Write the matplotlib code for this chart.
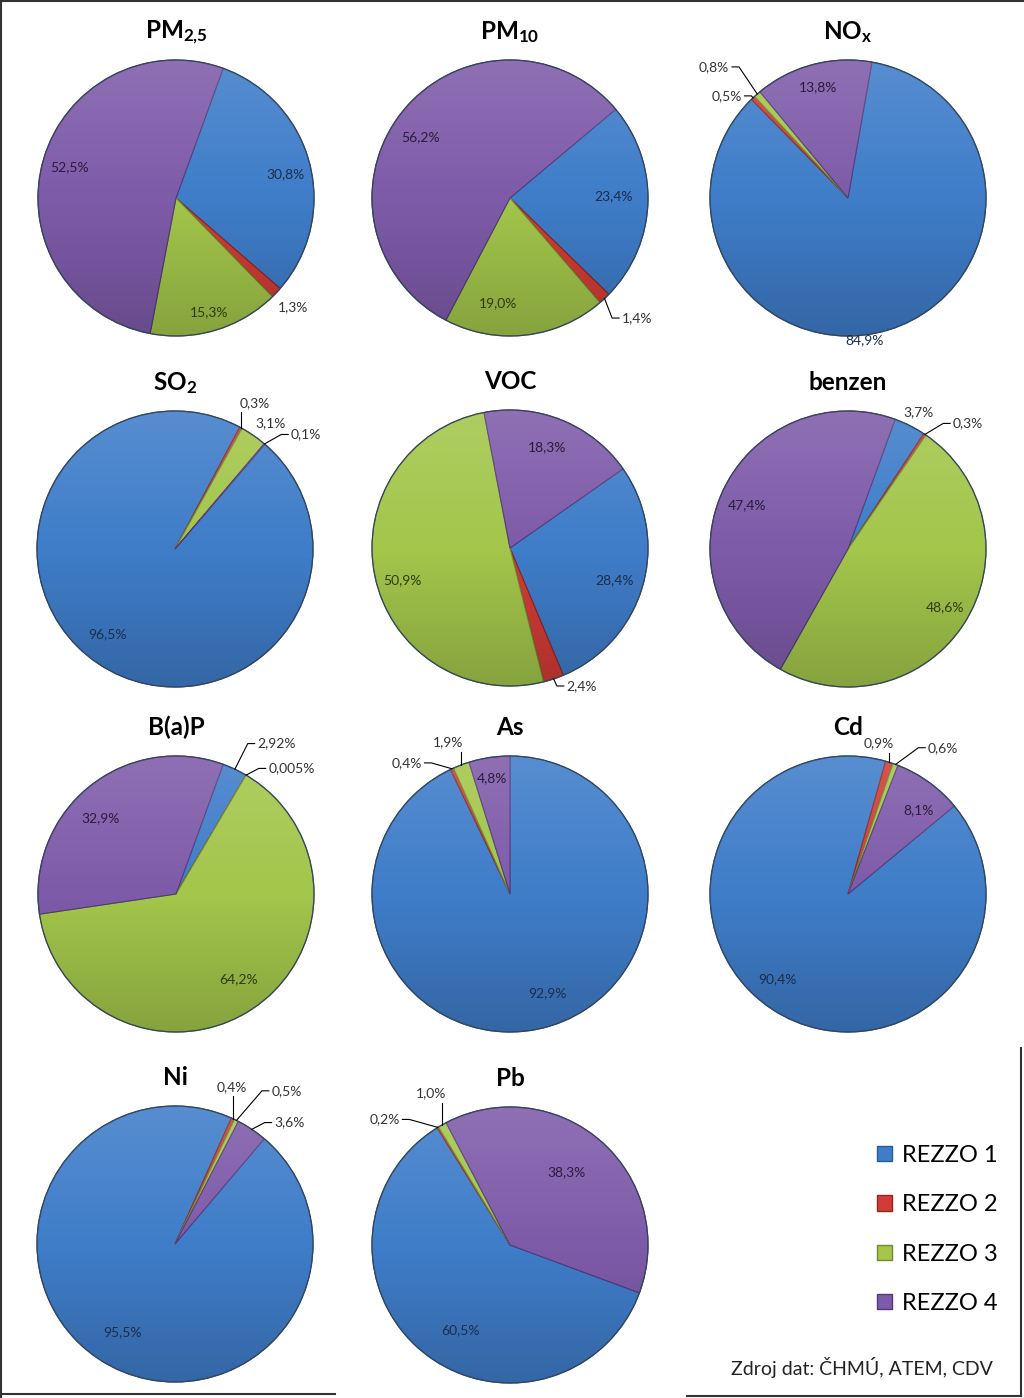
import numpy as np
import matplotlib
matplotlib.use("Agg")
import matplotlib.pyplot as plt
from matplotlib.patches import Patch, Circle
from matplotlib.lines import Line2D

plt.rcParams["font.family"] = ["Lato", "DejaVu Sans"]
plt.rcParams["mathtext.fontset"] = "custom"
plt.rcParams["mathtext.rm"] = "Lato"
plt.rcParams["mathtext.bf"] = "Lato:bold"
plt.rcParams["mathtext.it"] = "Lato:italic"

# DATA - share of each REZZO source group on the emissions (%)
series = ["REZZO 1", "REZZO 2", "REZZO 3", "REZZO 4"]
titles = [r"$\mathbf{PM_{2{,}5}}$", r"$\mathbf{PM_{10}}$", r"$\mathbf{NO_{x}}$",
          r"$\mathbf{SO_{2}}$", "VOC", "benzen",
          "B(a)P", "As", "Cd",
          "Ni", "Pb"]
pm25 = [30.8, 1.3, 15.3, 52.5]
pm10 = [23.4, 1.4, 19.0, 56.2]
nox = [84.9, 0.5, 0.8, 13.8]
so2 = [96.5, 0.3, 3.1, 0.1]
voc = [28.4, 2.4, 50.9, 18.3]
benzen = [3.7, 0.3, 48.6, 47.4]
bap = [2.92, 0.005, 64.2, 32.9]
arsen = [92.9, 0.4, 1.9, 4.8]
cadmium = [90.4, 0.9, 0.6, 8.1]
nickel = [95.5, 0.4, 0.5, 3.6]
lead = [60.5, 0.2, 1.0, 38.3]
all_values = [pm25, pm10, nox, so2, voc, benzen, bap, arsen, cadmium, nickel, lead]
source_note = "Zdroj dat: ČHMÚ, ATEM, CDV"

# STYLE / LAYOUT
colors = ["#3f7dc9", "#d23c36", "#a3c64b", "#7e5ba9"]
edge_colors = ["#2c5c98", "#8e2622", "#6d8a2c", "#54397a"]
text_colors = ["#1d2c4a", "#4a1412", "#2e3b10", "#2b1c3d"]

W, H = 1024, 1398
radius_px = 138
lim = 1.6

# pie centres in pixels (from top left) and angle of the first slice
centers = [(176, 198), (510, 198), (848, 198),
           (175, 549), (510, 548), (848, 549),
           (176, 894), (510, 894), (848, 894),
           (175, 1244), (510, 1245)]
start_angles = [70, 40, 80, 49.4, 35, 70, 70, 90, 39.6, 49.7, -20.3]

# label spots in pie radius units: (x, y, ha, leader)
# leader None = no line, "side" = stub + slanted line, "up" = straight up
label_spots = [
    [(0.79, 0.17, "center", None), (0.85, -0.79, "center", None),
     (0.24, -0.83, "center", None), (-0.77, 0.22, "center", None)],
    [(0.75, 0.01, "center", None), (0.81, -0.87, "left", "side"),
     (-0.09, -0.76, "center", None), (-0.65, 0.44, "center", None)],
    [(0.12, -1.03, "center", None), (-0.77, 0.74, "right", "side"),
     (-0.86, 0.95, "right", "side"), (-0.22, 0.80, "center", None)],
    [(-0.49, -0.62, "center", None), (0.47, 1.06, "left", "up"),
     (0.69, 0.91, "center", None), (0.84, 0.83, "left", "side")],
    [(0.76, -0.23, "center", None), (0.41, -1.0, "left", "side"),
     (-0.78, -0.23, "center", None), (0.27, 0.73, "center", None)],
    [(0.51, 0.99, "center", None), (0.76, 0.91, "left", "side"),
     (0.70, -0.42, "center", None), (-0.73, 0.32, "center", None)],
    [(0.59, 1.09, "left", "side"), (0.67, 0.91, "left", "side"),
     (0.45, -0.62, "center", None), (-0.55, 0.55, "center", None)],
    [(0.27, -0.72, "center", None), (-0.64, 0.95, "right", "side"),
     (-0.45, 1.10, "center", "up"), (-0.13, 0.84, "center", None)],
    [(-0.51, -0.62, "center", None), (0.22, 1.09, "center", "up"),
     (0.58, 1.06, "left", "side"), (0.51, 0.61, "center", None)],
    [(-0.38, -0.64, "center", None), (0.41, 1.14, "center", "up"),
     (0.70, 1.11, "left", "side"), (0.72, 0.88, "left", "side")],
    [(-0.36, -0.62, "center", None), (-0.80, 0.91, "right", "side"),
     (-0.57, 1.10, "center", "up"), (0.41, 0.53, "center", None)],
]

# soft top-light / bottom-dark shading like the excel style
shade = np.zeros((200, 2, 4))
for row in range(200):
    f = row / 199
    if f < 0.5:
        shade[row, :, :3] = 1.0
        shade[row, :, 3] = 0.13 * (1 - 2 * f)
    else:
        shade[row, :, 3] = 0.18 * (2 * f - 1)

fig = plt.figure(figsize=(W / 100, H / 100), dpi=100)
fig.patch.set_facecolor("white")

size_px = 2 * lim * radius_px

for k in range(len(all_values)):
    cx, cy = centers[k]
    ax = fig.add_axes([(cx - size_px / 2) / W, (H - cy - size_px / 2) / H,
                       size_px / W, size_px / H])
    ax.patch.set_visible(False)

    wedges, _ = ax.pie(all_values[k], colors=colors, startangle=start_angles[k],
                       counterclock=False, radius=1.0,
                       wedgeprops=dict(linewidth=0.8))
    for i in range(len(wedges)):
        wedges[i].set_edgecolor(edge_colors[i])

    clip = Circle((0, 0), 1.0, transform=ax.transData)
    img = ax.imshow(shade, extent=(-1, 1, -1, 1), zorder=3, aspect="auto")
    img.set_clip_path(clip)
    ax.add_patch(Circle((0, 0), 1.0, fill=False, edgecolor="#33455e",
                        linewidth=0.9, zorder=4))

    # percentage labels
    for i in range(len(wedges)):
        x, y, ha, leader = label_spots[k][i]
        text = str(all_values[k][i]).replace(".", ",") + "%"
        outside = leader is not None or np.hypot(x, y) > 1.05
        col = "#333333" if outside else text_colors[i]
        ax.text(x, y, text, ha=ha, va="center", fontsize=10, color=col, zorder=6)

        if leader is None:
            continue
        mid = np.radians((wedges[i].theta1 + wedges[i].theta2) / 2)
        ex, ey = np.cos(mid), np.sin(mid)
        if leader == "up":
            ax.plot([ex, ex], [ey, y - 0.07], color="black", lw=0.8, zorder=5)
        else:
            if ha == "left":
                sx, stub = x - 0.02, x - 0.07
            else:
                sx, stub = x + 0.02, x + 0.07
            ax.plot([sx, stub, ex], [y, y, ey], color="black", lw=0.8, zorder=5)

    ax.text(0, 1.155, titles[k], ha="center", va="baseline", fontsize=17.5,
            fontweight="bold", color="black")

    ax.set_xlim(-lim, lim)
    ax.set_ylim(-lim, lim)
    ax.set_aspect("equal")
    ax.axis("off")

# legend in the empty last cell
handles = [Patch(facecolor=colors[i], edgecolor=edge_colors[i]) for i in range(4)]
fig.legend(handles, series, loc="upper left",
           bbox_to_anchor=(877 / W, 1 - 1145 / H), frameon=False,
           fontsize=17, handlelength=0.62, handleheight=0.62, handletextpad=0.45,
           labelspacing=1.2, borderpad=0, borderaxespad=0)

fig.text(993 / W, 1 - 1368 / H, source_note, ha="right", va="center",
         fontsize=14, color="#222222")


# frame lines round the picture
def frame_line(x0, y0, x1, y1):
    fig.add_artist(Line2D([x0 / W, x1 / W], [1 - y0 / H, 1 - y1 / H],
                          color="#333333", lw=1.5))


frame_line(1, 0, 1, H)
frame_line(0, 1, W, 1)
frame_line(0, 1394, 335, 1394)
frame_line(687, 1396, 1021, 1396)
frame_line(1021, 1048, 1021, 1396)

fig.savefig("out.png", dpi=100)
